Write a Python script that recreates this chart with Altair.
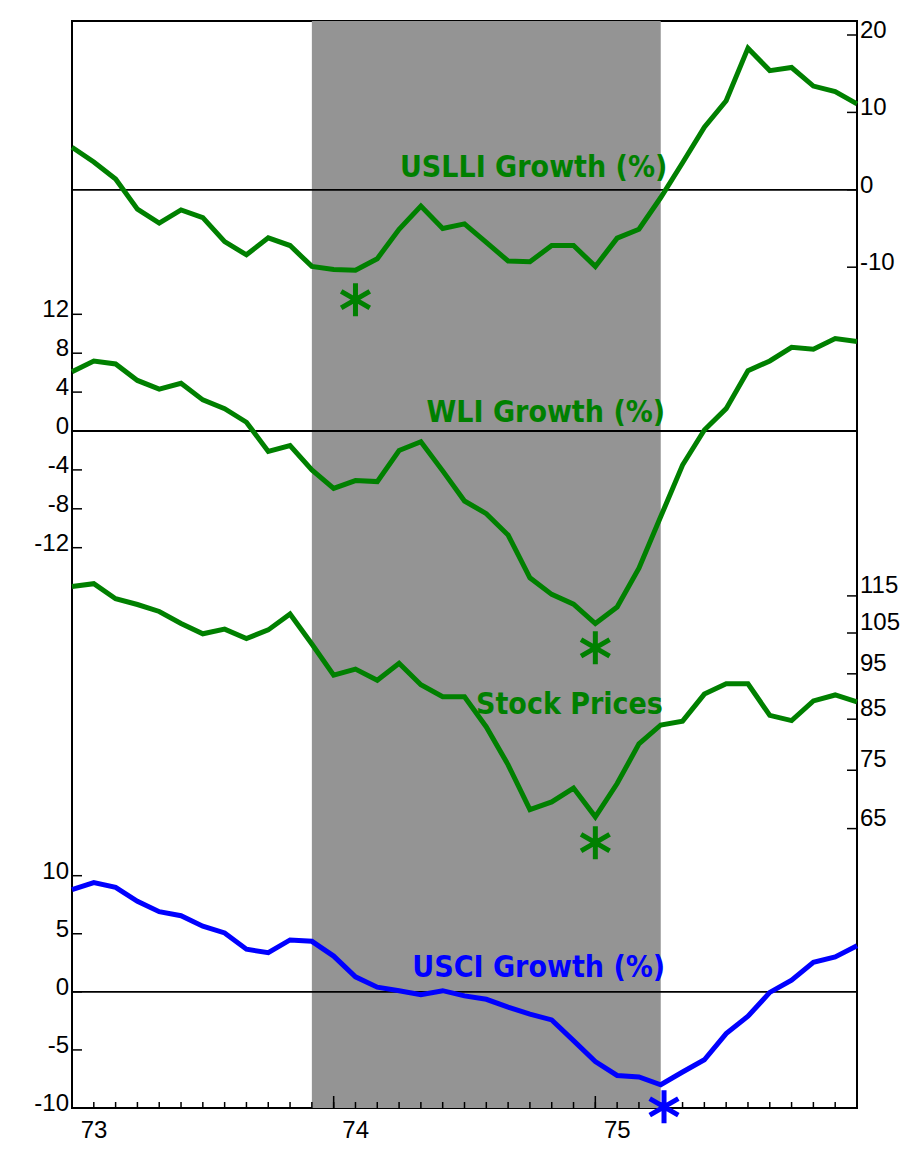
import altair as alt
import pandas as pd

# ---- data (monthly, Jan 1973 = month 0 ... Jan 1976 = month 36) ----
month_idx = list(range(37))
year_ticks = [0, 12, 24]
year_labels = ["73", "74", "75"]
minor_ticks = list(range(1, 36))
recession = [11, 27]  # shaded recession, in months

uslli = [5.5, 3.6, 1.4, -2.5, -4.3, -2.6, -3.6, -6.7, -8.4, -6.2, -7.2, -9.9,
         -10.3, -10.4, -8.9, -5.1, -2.1, -5.0, -4.4, -6.8, -9.2, -9.3, -7.2, -7.2,
         -9.9, -6.25, -5.1, -1.0, 3.5, 8.1, 11.5, 18.3, 15.4, 15.8, 13.4, 12.7, 11.1]
wli = [6.1, 7.2, 6.9, 5.2, 4.3, 4.9, 3.2, 2.3, 0.9, -2.1, -1.5, -4.0,
       -5.9, -5.1, -5.2, -2.0, -1.1, -4.1, -7.2, -8.5, -10.7, -15.1, -16.8, -17.8,
       -19.8, -18.1, -14.1, -8.8, -3.5, 0.1, 2.3, 6.2, 7.2, 8.6, 8.4, 9.5, 9.2]
stock = [117.7, 118.5, 114.2, 112.6, 110.7, 107.5, 104.8, 106.0, 103.6, 105.8, 110.0, 102.2,
         94.7, 96.1, 93.5, 97.5, 92.5, 89.8, 89.8, 83.4, 76.0, 68.1, 69.4, 71.8,
         66.9, 72.6, 80.0, 83.8, 84.6, 90.4, 92.7, 92.7, 85.8, 84.7, 88.9, 90.2, 88.7]
usci = [8.8, 9.4, 9.0, 7.8, 6.9, 6.55, 5.65, 5.07, 3.67, 3.37, 4.47, 4.35,
        3.08, 1.29, 0.40, 0.10, -0.25, 0.10, -0.35, -0.64, -1.32, -1.92, -2.42, -4.2,
        -6.0, -7.2, -7.33, -8.0, -6.9, -5.85, -3.6, -2.1, -0.05, 1.0, 2.55, 3.0, 3.97]

uslli_ticks = [-10, 0, 10, 20]
wli_ticks = [-12, -8, -4, 0, 4, 8, 12]
stock_ticks = [65, 75, 85, 95, 105, 115]
usci_ticks = [-10, -5, 0, 5, 10]

# annotation anchors (month, value in the series' own units)
uslli_label = ("USLLI Growth (%)", 27.3, 1.65)
wli_label = ("WLI Growth (%)", 27.2, 0.96)
stock_label = ("Stock Prices", 27.1, 86.1)
usci_label = ("USCI Growth (%)", 27.2, 1.27)
uslli_star = (13, -14.2)
wli_star = (24, -22.3)
stock_star = (24, 62.8)
usci_star = (27.15, -9.9)

# ---- styling ----
W, H = 785, 1087
GREEN = "#008000"
BLUE = "#0000ff"
GRAY = "#949494"
FONT = "Liberation Sans, Arial, sans-serif"
TFONT = "'DejaVu Sans Condensed', sans-serif"
TSIZE = 30
LSIZE = 24
STAR = "M0,-1L0,1M-0.866,-0.5L0.866,0.5M-0.866,0.5L0.866,-0.5"

xs = alt.Scale(domain=[0, 36], nice=False, zero=False)


def X(field):
    return alt.X(field, type="quantitative", scale=xs, axis=None)


band = alt.Chart(pd.DataFrame({"start": [recession[0]], "end": [recession[1]]})).mark_rect(
    color=GRAY
).encode(x=X("start"), x2="end:Q")

minor = alt.Chart(pd.DataFrame({"m": minor_ticks})).mark_rule(
    color="black", strokeWidth=1.5
).encode(x=X("m"), y=alt.value(H - 6), y2=alt.value(H))

major = alt.Chart(pd.DataFrame({"m": year_ticks[1:]})).mark_rule(
    color="black", strokeWidth=1.5
).encode(x=X("m"), y=alt.value(H - 12), y2=alt.value(H))

xlabels = alt.Chart(pd.DataFrame({"m": year_ticks, "t": year_labels})).mark_text(
    align="center", baseline="top", dx=22, font=FONT, fontSize=LSIZE, color="black"
).encode(x=X("m"), y=alt.value(H + 11), text="t:N")


def series(values, color, domain, rng, stype, ticks, side, lab_dy, label, star, zero_line):
    ys_kw = dict(type=stype, domain=domain, range=rng, nice=False)
    if stype != "log":
        ys_kw["zero"] = False
    ys = alt.Scale(**ys_kw)

    def Y(field):
        return alt.Y(field, type="quantitative", scale=ys, axis=None)

    df = pd.DataFrame({"m": month_idx, "v": values})
    tdf = pd.DataFrame({"v": ticks, "t": [str(t) for t in ticks]})
    layers = []
    if zero_line:
        layers.append(
            alt.Chart(pd.DataFrame({"v": [0]})).mark_rule(color="black", strokeWidth=1.8).encode(
                y=Y("v")
            )
        )
    if side == "right":
        tick_x, tick_x2, lab_x, lab_align = W - 10, W, W + 3, "left"
    else:
        tick_x, tick_x2, lab_x, lab_align = 0, 10, -3, "right"
    layers.append(
        alt.Chart(tdf).mark_rule(color="black", strokeWidth=1.5).encode(
            y=Y("v"), x=alt.value(tick_x), x2=alt.value(tick_x2)
        )
    )
    layers.append(
        alt.Chart(tdf).mark_text(
            align=lab_align, baseline="middle", dy=lab_dy, font=FONT, fontSize=LSIZE,
            color="black",
        ).encode(y=Y("v"), x=alt.value(lab_x), text="t:N")
    )
    layers.append(
        alt.Chart(df).mark_line(color=color, strokeWidth=5, strokeCap="butt").encode(
            x=X("m"), y=Y("v")
        )
    )
    layers.append(
        alt.Chart(pd.DataFrame({"t": [label[0]], "m": [label[1]], "v": [label[2]]})).mark_text(
            align="right", baseline="alphabetic", font=TFONT, fontSize=TSIZE,
            fontWeight="bold", color=color,
        ).encode(x=X("m"), y=Y("v"), text="t:N")
    )
    layers.append(
        alt.Chart(pd.DataFrame({"m": [star[0]], "v": [star[1]]})).mark_point(
            shape=STAR, size=1089, stroke=color, strokeWidth=5, filled=False,
            opacity=1, strokeCap="butt",
        ).encode(x=X("m"), y=Y("v"))
    )
    return alt.layer(*layers)


s1 = series(uslli, GREEN, [-10, 20], [246.2, 14], "linear", uslli_ticks, "right", -4,
            uslli_label, uslli_star, True)
s2 = series(wli, GREEN, [-12, 12], [526.7, 293.3], "linear", wli_ticks, "left", -4,
            wli_label, wli_star, True)
s3 = series(stock, GREEN, [65, 115], [807.6, 574.9], "log", stock_ticks, "right", -10,
            stock_label, stock_star, False)
s4 = series(usci, BLUE, [-10, 10], [1087, 854.7], "linear", usci_ticks, "left", -4,
            usci_label, usci_star, True)

chart = (
    alt.layer(band, minor, major, xlabels, s1, s2, s3, s4)
    .resolve_scale(y="independent")
    .properties(
        width=W, height=H, background="white",
        autosize=alt.AutoSizeParams(type="none"),
        padding={"left": 64, "top": 13, "right": 43, "bottom": 35},
    )
    .configure_view(stroke="black", strokeWidth=2)
)

chart.save("out.html", embed_options={"renderer": "svg", "actions": False})
